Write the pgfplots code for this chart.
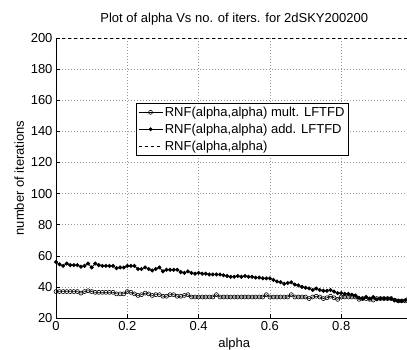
\documentclass[border=0pt]{standalone}
\usepackage{pgfplots}
\pgfplotsset{compat=1.18}
\usepackage{pgfplotstable}
\usepackage{fontspec}
\setmainfont{Liberation Sans}
\pgfplotstableread{
a mult add
0.00 37 56
0.01 37 54.5
0.02 37 53.5
0.03 37 55
0.04 37 54
0.05 37 54
0.06 37 54
0.07 36 53
0.08 37 53.5
0.09 37.5 55
0.10 37 52.5
0.11 36.5 55
0.12 36.5 54
0.13 36.5 53.5
0.14 36.5 53.5
0.15 36.5 53.5
0.16 36.5 53.5
0.17 35.5 52
0.18 35.5 52.5
0.19 35.5 52.5
0.20 37 53.5
0.21 36.5 53.5
0.22 35.5 53.5
0.23 34.5 51.5
0.24 35 51.5
0.25 36 52.5
0.26 35.5 51.5
0.27 34.5 50.5
0.28 35 51.5
0.29 35 52.5
0.30 34 50
0.31 34 51
0.32 35 51
0.33 35 51
0.34 34 51
0.35 34 49.5
0.36 34.5 49
0.37 35 50
0.38 33.5 49
0.39 33.5 48.5
0.40 33.5 49
0.41 33.5 48.5
0.42 33.5 48.5
0.43 33.5 48
0.44 33.5 48
0.45 35 48
0.46 33.5 48
0.47 33.5 47.5
0.48 33.5 47
0.49 33.5 46.5
0.50 33.5 46.5
0.51 33.5 47
0.52 33.5 46.5
0.53 33.5 47
0.54 33.5 46.5
0.55 33.5 46.5
0.56 33.5 46
0.57 33.5 46
0.58 33.5 45.5
0.59 35 45.5
0.60 33.5 45.5
0.61 33.5 44.5
0.62 33.5 43.5
0.63 33.5 43
0.64 33.5 42
0.65 33.5 42.5
0.66 35 43
0.67 33.5 41.5
0.68 33.5 41
0.69 33.5 40
0.70 33.5 39.5
0.71 32.5 39
0.72 33.5 38
0.73 34 39
0.74 33.5 38
0.75 32.5 37.5
0.76 33 37.5
0.77 34 38
0.78 33 37
0.79 32 36
0.80 33.5 36
0.81 33.5 35.5
0.82 33.5 35.5
0.83 33.5 35
0.84 33.5 34.5
0.85 32 33
0.86 32.5 32.5
0.87 32.5 33.5
0.88 32 32.5
0.89 31.5 33.5
0.90 32.5 32
0.91 32.5 32.5
0.92 32.5 32.5
0.93 32.5 32.5
0.94 32.5 32.5
0.95 31.5 31.5
0.96 31 31
0.97 31 31
0.98 31 31.5
0.99 33 34
}\datatable
\pgfplotstableread{
a v
0 200
1 200
}\consttable
\begin{document}
\begin{tikzpicture}
\begin{axis}[
  name=ax,
  scale only axis,
  width=356.5pt, height=280pt,
  xmin=0, xmax=1, ymin=20, ymax=200,
  xtick={0,0.2,0.4,0.6,0.8},
  ytick={20,40,...,200},
  axis lines=left,
  axis line style={-, line width=0.6pt},
  tick align=inside,
  major tick length=4pt,
  tick style={black, line width=0.5pt},
  grid=major,
  grid style={dash pattern=on 0.6pt off 2.4pt, gray!80, line width=0.5pt},
  /pgf/number format/assume math mode=true,
  ticklabel style={font=\fontsize{13}{15}\selectfont},
  label style={font=\fontsize{13}{15}\selectfont},
  title style={font=\fontsize{13}{15}\selectfont, anchor=base, yshift=10pt},
  title={Plot of alpha Vs no. of iters. for 2dSKY200200},
  xlabel={alpha},
  ylabel={number of iterations},
  legend style={font=\fontsize{13}{15}\selectfont, at={(0.224,0.768)}, anchor=north west,
    draw=black, line width=0.8pt, fill=white, inner xsep=2pt, inner ysep=1.5pt, row sep=2pt},
  legend cell align=left,
  legend image code/.code={\draw[mark repeat=2, mark phase=2, line width=0.6pt] plot coordinates {(0pt,0pt) (12pt,0pt) (24pt,0pt)};},
]
\addplot[black, line width=0.6pt, mark=o, mark size=2pt, mark options={solid, line width=0.6pt}] table[x=a, y=mult] {\datatable};
\addlegendentry{RNF(alpha,alpha) mult. LFTFD}
\addplot[black, line width=0.8pt, mark=*, mark size=1.6pt, mark options={solid}] table[x=a, y=add] {\datatable};
\addlegendentry{RNF(alpha,alpha) add. LFTFD}
\addplot[black, dashed, line width=0.6pt] table[x=a, y=v] {\consttable};
\addlegendentry{RNF(alpha,alpha)}
\end{axis}
\pgfresetboundingbox
\path ([shift={(-56pt,-31pt)}]ax.south west) rectangle ([shift={(351pt,318pt)}]ax.south west);
\end{tikzpicture}
\end{document}
